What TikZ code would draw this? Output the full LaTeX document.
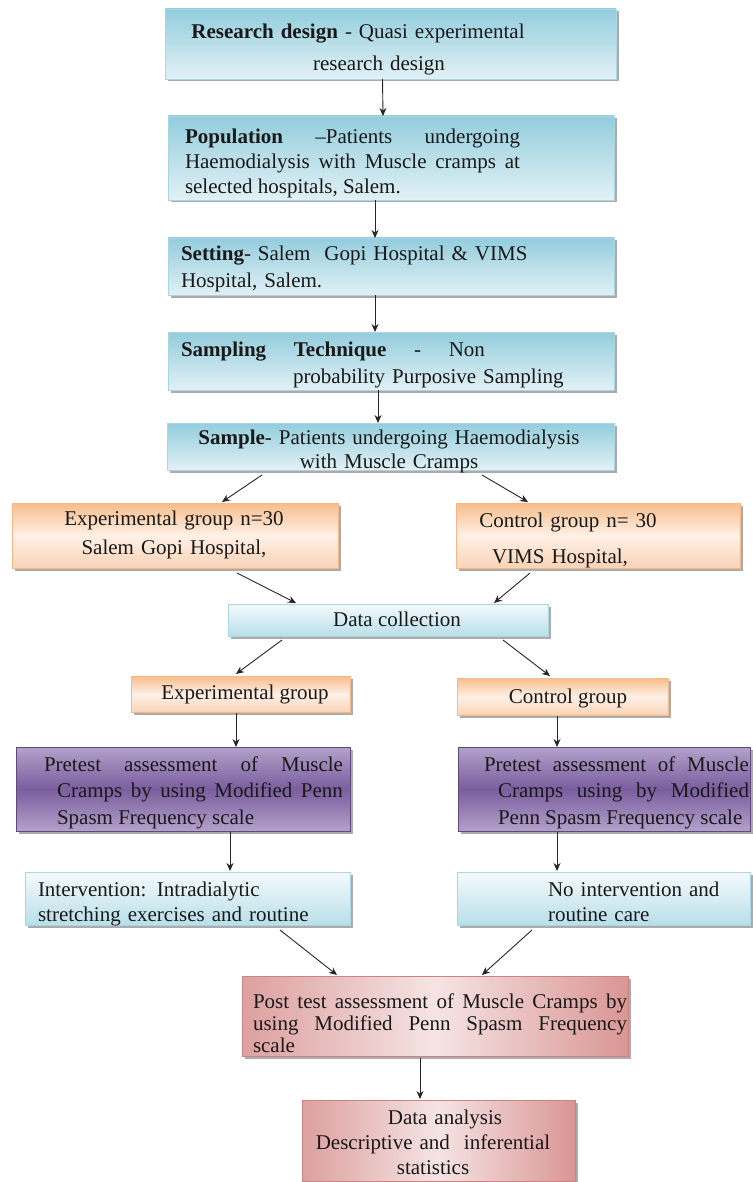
\documentclass[tikz,border=0pt]{standalone}
\usepackage{fontspec}
\setmainfont{Liberation Serif}
\usetikzlibrary{shadows,calc,arrows.meta}
\hbadness=10000
\definecolor{bluetop}{HTML}{93CDDD}
\definecolor{bluebot}{HTML}{E2F1F5}
\definecolor{bluebd}{HTML}{A9D6E2}
\definecolor{lbtop}{HTML}{F4FAFC}
\definecolor{lbbot}{HTML}{B9DFE9}
\definecolor{ortop}{HTML}{F8BD8A}
\definecolor{ormid}{HTML}{FEF0E6}
\definecolor{orbot}{HTML}{FAD4B6}
\definecolor{orbd}{HTML}{F6B889}
\definecolor{putop}{HTML}{B3A1CA}
\definecolor{pumid}{HTML}{7A5E9E}
\definecolor{pubd}{HTML}{5E4A7A}
\definecolor{pkleft}{HTML}{DCA09F}
\definecolor{pkmid}{HTML}{F6E4E4}
\definecolor{pkright}{HTML}{D99694}
\definecolor{pkbd}{HTML}{CC8482}
\begin{document}
\begin{tikzpicture}[x=1pt,y=-1pt,
  basebox/.style={line width=0.7pt, inner sep=0pt, outer sep=0pt, anchor=north west,
    drop shadow={shadow xshift=2.5pt, shadow yshift=-2.5pt, fill=black!60, opacity=.55}},
  bluebox/.style={basebox, draw=bluebd, top color=bluetop, bottom color=bluebot},
  lightbox/.style={basebox, draw=bluebd, top color=lbtop, bottom color=lbbot},
  orangebox/.style={basebox, draw=orbd, top color=ortop, bottom color=orbot, middle color=ormid},
  purplebox/.style={basebox, draw=pubd, top color=putop, bottom color=putop, middle color=pumid},
  pinkbox/.style={basebox, draw=pkbd, left color=pkleft, right color=pkright, middle color=pkmid},
  txt/.style={inner sep=0pt, outer sep=0pt, text=black!90, font=\fontsize{21}{25}\selectfont},
  arr/.style={-{Stealth[length=8pt,width=7pt]}, line width=0.9pt, draw=black!85}]
\useasboundingbox (0,0) rectangle (752,1182);

% boxes
\node[bluebox, minimum width=451pt, minimum height=70pt] (b1) at (165,9) {};
\node[bluebox, minimum width=446pt, minimum height=84pt] (b2) at (168,116) {};
\node[bluebox, minimum width=446pt, minimum height=57pt] (b3) at (168,238) {};
\node[bluebox, minimum width=446pt, minimum height=58pt] (b4) at (168,332) {};
\node[bluebox, minimum width=447pt, minimum height=47pt] (b5) at (167,423) {};
\node[orangebox, minimum width=326pt, minimum height=65pt] (e1) at (12,503) {};
\node[orangebox, minimum width=284pt, minimum height=65pt] (c1) at (456,503) {};
\node[lightbox, minimum width=320pt, minimum height=32pt] (dc) at (228,604) {};
\node[orangebox, minimum width=219pt, minimum height=36pt] (e2) at (131,676) {};
\node[orangebox, minimum width=211pt, minimum height=37pt] (c2) at (457,678) {};
\node[purplebox, minimum width=334pt, minimum height=84pt] (pl) at (16,747) {};
\node[purplebox, minimum width=292pt, minimum height=84pt] (pr) at (458,747) {};
\node[lightbox, minimum width=325pt, minimum height=53pt] (il) at (25,872) {};
\node[lightbox, minimum width=293pt, minimum height=53pt] (ir) at (457,872) {};
\node[pinkbox, minimum width=386pt, minimum height=80pt] (post) at (242,976) {};
\node[pinkbox, minimum width=273pt, minimum height=81pt] (da) at (302,1100) {};

% texts
\node[txt, anchor=base, text width=420pt, align=center] (t1) at (358,39)
  {\textbf{Research design} - Quasi experimental\\[7pt]\hspace*{42pt}research design};
\node[txt, anchor=base west, text width=335pt, align=justify] (t2) at (185,144)
  {\textbf{Population} –Patients undergoing\linebreak Haemodialysis with Muscle cramps at\linebreak selected hospitals, Salem.};
\node[txt, anchor=base west, text width=420pt, align=left] (t3) at (181,261)
  {\textbf{Setting}- Salem\ \ Gopi Hospital \& VIMS\\[2pt]Hospital, Salem.};
\node[txt, anchor=base west, text width=420pt, align=left] (t4) at (181,356)
  {\makebox[304pt][l]{\textbf{Sampling}\hfill\textbf{Technique}\hfill-\hfill Non}\\[2pt]\hspace*{112pt}probability Purposive Sampling};
\node[txt, anchor=base, text width=440pt, align=center] (t5) at (389,444)
  {\textbf{Sample}- Patients undergoing Haemodialysis\\[-1pt]with Muscle Cramps};
\node[txt, anchor=base, text width=300pt, align=center] (te1) at (174,525)
  {Experimental group n=30\\[4pt]Salem Gopi Hospital,};
\node[txt, anchor=base, text width=270pt, align=center] (tc1) at (568,527)
  {Control group n= 30\\[11pt]\hspace*{-16pt}VIMS Hospital,};
\node[txt, anchor=base] (tdc) at (397,626) {Data collection};
\node[txt, anchor=base] (te2) at (245,699) {Experimental group};
\node[txt, anchor=base] (tc2) at (568,703) {Control group};
\node[txt, anchor=base west, text width=299pt, align=justify, font=\fontsize{21}{26.5}\selectfont] (tpl) at (44,771)
  {Pretest assessment of Muscle\linebreak\hspace*{13pt}Cramps by using Modified Penn\linebreak\hspace*{13pt}Spasm Frequency scale};
\node[txt, anchor=base west, text width=265pt, align=justify, font=\fontsize{21}{26.5}\selectfont] (tpr) at (484,771)
  {Pretest assessment of Muscle\linebreak\hspace*{14pt}Cramps using by Modified\linebreak\hspace*{14pt}Penn Spasm Frequency scale};
\node[txt, anchor=base west, text width=310pt, align=left] (til) at (38,896)
  {Intervention: Intradialytic\\stretching exercises and routine};
\node[txt, anchor=base west, text width=195pt, align=left] (tir) at (548,896)
  {No intervention and\\routine care};
\node[txt, anchor=base west, text width=374pt, align=justify, font=\fontsize{21}{22}\selectfont] (tpost) at (253,1008)
  {Post test assessment of Muscle Cramps by\linebreak using Modified Penn Spasm Frequency\linebreak scale};
\node[txt, anchor=base, text width=270pt, align=center] (tda) at (433,1124)
  {\hspace*{24pt}Data analysis\\Descriptive and\ \ inferential\\statistics};

% connectors
\draw[arr] ([xshift=-8pt]b1.south) -- ([xshift=-8pt]b2.north);
\draw[arr] ([xshift=-16pt]b2.south) -- ([xshift=-16pt]b3.north);
\draw[arr] ([xshift=-16pt]b3.south) -- ([xshift=-16pt]b4.north);
\draw[arr] ([xshift=-13pt]b4.south) -- ([xshift=-12.5pt]b5.north);
\draw[arr] ($(b5.south west)+(95,5)$) -- ($(e1.north west)+(210,-1)$);
\draw[arr] ($(b5.south west)+(315,5)$) -- ($(c1.north west)+(72,-1)$);
\draw[arr] ($(e1.south west)+(225,5)$) -- ($(dc.north west)+(68,-1)$);
\draw[arr] ($(c1.south west)+(74,5)$) -- ($(dc.north west)+(266,-1)$);
\draw[arr] ($(dc.south west)+(54,4)$) -- ($(e2.north west)+(105,-2)$);
\draw[arr] ($(dc.south west)+(275,4)$) -- ($(c2.north west)+(93,-2)$);
\draw[arr] ($(e2.south west)+(105,1)$) -- ($(pl.north west)+(220,0)$);
\draw[arr] ($(c2.south west)+(100,1)$) -- ($(pr.north west)+(99,0)$);
\draw[arr] ($(pl.south west)+(214,1)$) -- ($(il.north west)+(205,-1)$);
\draw[arr] ($(pr.south west)+(99,1)$) -- ($(ir.north west)+(100,-1)$);
\draw[arr] ($(il.south west)+(255,5)$) -- ($(post.north west)+(95,-1)$);
\draw[arr] ($(ir.south west)+(75,5)$) -- ($(post.north west)+(240,-1)$);
\draw[arr] ($(post.south west)+(178,2)$) -- ($(da.north west)+(118,-1)$);
\end{tikzpicture}
\end{document}
